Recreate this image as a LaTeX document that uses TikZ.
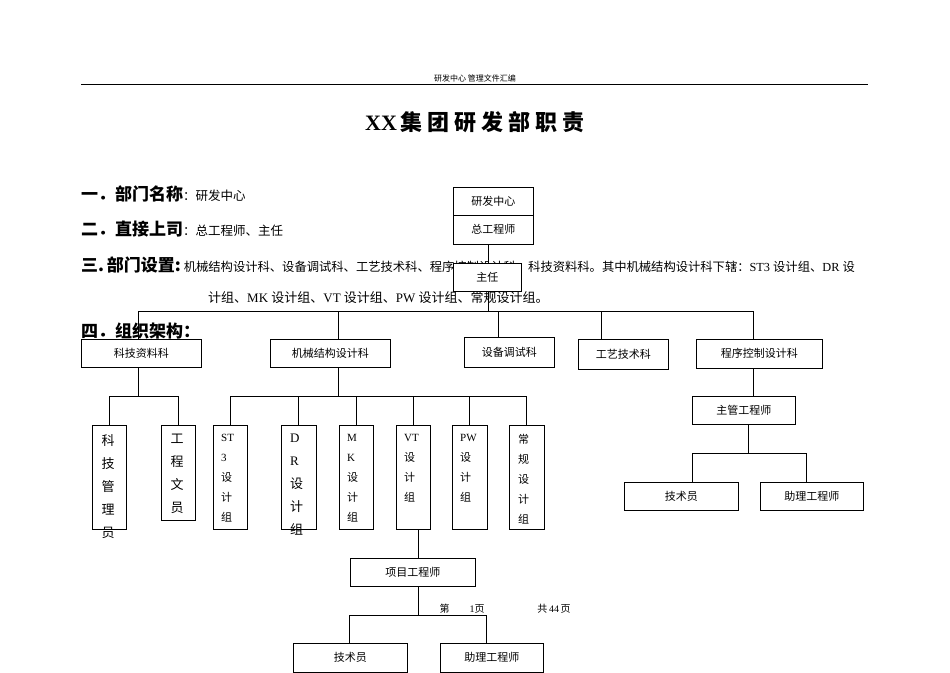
\documentclass[tikz,border=0pt]{standalone}
\usepackage{fontspec}
\setmainfont{Liberation Serif}
\newfontfamily\cjk{Noto Sans CJK SC}
\begin{document}
\begin{tikzpicture}[x=1pt,y=-1pt,
  bx/.style={draw,fill=white,line width=0.6pt,inner sep=0pt,anchor=north west},
  lab/.style={font=\cjk\fontsize{11}{12}\selectfont},
  vt/.style={font=\fontsize{11}{21}\selectfont\cjk,align=center,anchor=north,inner sep=0pt},
  ln/.style={line width=0.6pt}]
\useasboundingbox (0,0) rectangle (950,672);
% header
\node[font=\cjk\fontsize{8}{9}\selectfont] (hd) at (475,78) {研发中心\ 管理文件汇编};
\draw[line width=0.5pt] (81,84) -- (868,84);
\node[font=\bfseries\fontsize{22}{24}\selectfont] (tt) at (475,122) {XX\,{\cjk\bfseries 集\ 团\ 研\ 发\ 部\ 职\ 责}};
\node[anchor=west,inner sep=0pt] (s1) at (81,194) {{\cjk\bfseries\fontsize{17}{18}\selectfont 一．部门名称}{\cjk\fontsize{12.5}{13}\selectfont ：研发中心}};
\node[anchor=west,inner sep=0pt] (s2) at (81,229) {{\cjk\bfseries\fontsize{17}{18}\selectfont 二．直接上司}{\cjk\fontsize{12.5}{13}\selectfont ：总工程师、主任}};
\node[anchor=west,inner sep=0pt] (s3) at (81,265) {{\cjk\bfseries\fontsize{17}{18}\selectfont 三.\,部门设置:\,}{\cjk\fontsize{12.3}{13}\selectfont 机械结构设计科、设备调试科、工艺技术科、程序控制设计科、科技资料科。其中机械结构设计科下辖：}{\fontsize{12.3}{13}\selectfont ST3 }{\cjk\fontsize{12.3}{13}\selectfont 设计组、}{\fontsize{12.3}{13}\selectfont DR }{\cjk\fontsize{12.3}{13}\selectfont 设}};
\node[anchor=west,inner sep=0pt,font=\fontsize{13}{14}\selectfont] (s3b) at (208,298) {{\cjk 计组、}MK {\cjk 设计组、}VT {\cjk 设计组、}PW {\cjk 设计组、常规设计组。}};
\node[anchor=west,inner sep=0pt] (s4) at (81,331) {\cjk\bfseries\fontsize{17}{18}\selectfont 四．组织架构：};
% top
\node[bx,minimum width=80,minimum height=28,lab] (a) at (453,187) {研发中心};
\node[bx,minimum width=80,minimum height=29,lab] (b) at (453,215) {总工程师};
\node[bx,minimum width=68,minimum height=28,lab] (c) at (453,263) {主任};
\draw[ln] (488,244) -- (488,263);
% level 2
\node[bx,minimum width=120,minimum height=28,lab] (k1) at (81,339) {科技资料科};
\node[bx,minimum width=120,minimum height=28,lab] (k2) at (270,339) {机械结构设计科};
\node[bx,minimum width=90,minimum height=30,lab] (k3) at (464,337) {设备调试科};
\node[bx,minimum width=90,minimum height=30,lab] (k4) at (578,339) {工艺技术科};
\node[bx,minimum width=126,minimum height=29,lab] (k5) at (696,339) {程序控制设计科};
\draw[ln] (488,291) -- (488,311);
\draw[ln] (138,339) -- (138,311) -- (753,311) -- (753,339);
\draw[ln] (338,311) -- (338,339) (498,311) -- (498,337) (601,311) -- (601,339);
% 科技资料科 children
\draw[ln] (138,367) -- (138,396);
\draw[ln] (109,425) -- (109,396) -- (178,396) -- (178,425);
\node[bx,minimum width=34,minimum height=104] (m1) at (92,425) {};
\node[bx,minimum width=34,minimum height=95] (m2) at (161,425) {};
\node[vt,font=\cjk\fontsize{13}{23}\selectfont] (t1) at (108,434) {科\\技\\管\\理\\员};
\node[vt,font=\cjk\fontsize{13}{23}\selectfont] (t2) at (177,434) {工\\程\\文\\员};
% 机械 children
\draw[ln] (338,367) -- (338,396);
\draw[ln] (230,425) -- (230,396) -- (526,396) -- (526,425);
\foreach \x in {298,356,413,469}{\draw[ln] (\x,396) -- (\x,425);}
\node[bx,minimum width=34,minimum height=104] (g1) at (213,425) {};
\node[bx,minimum width=35,minimum height=104] (g2) at (281,425) {};
\node[bx,minimum width=34,minimum height=104] (g3) at (339,425) {};
\node[bx,minimum width=34,minimum height=104] (g4) at (396,425) {};
\node[bx,minimum width=35,minimum height=104] (g5) at (452,425) {};
\node[bx,minimum width=35,minimum height=104] (g6) at (509,425) {};
\node[vt,font=\fontsize{11}{20}\selectfont,align=left,anchor=north west] (u1) at (221,434) {ST\\3\\{\cjk 设}\\{\cjk 计}\\{\cjk 组}};
\node[vt,font=\fontsize{13}{23}\selectfont,align=left,anchor=north west] (u2) at (290,434) {D\\R\\{\cjk 设}\\{\cjk 计}\\{\cjk 组}};
\node[vt,font=\fontsize{11}{20}\selectfont,align=left,anchor=north west] (u3) at (347,434) {M\\K\\{\cjk 设}\\{\cjk 计}\\{\cjk 组}};
\node[vt,font=\fontsize{11}{20}\selectfont,align=left,anchor=north west] (u4) at (404,434) {VT\\{\cjk 设}\\{\cjk 计}\\{\cjk 组}};
\node[vt,font=\fontsize{11}{20}\selectfont,align=left,anchor=north west] (u5) at (460,434) {PW\\{\cjk 设}\\{\cjk 计}\\{\cjk 组}};
\node[vt,font=\fontsize{11}{20}\selectfont,align=left,anchor=north west] (u6) at (518,434) {{\cjk 常}\\{\cjk 规}\\{\cjk 设}\\{\cjk 计}\\{\cjk 组}};
% VT children
\node[bx,minimum width=125,minimum height=28,lab] (p) at (350,558) {项目工程师};
\draw[ln] (418,529) -- (418,558);
\draw[ln] (418,586) -- (418,615);
\draw[ln] (349,643) -- (349,615) -- (486,615) -- (486,643);
\node[bx,minimum width=114,minimum height=29,lab] (p1) at (293,643) {技术员};
\node[bx,minimum width=103,minimum height=29,lab] (p2) at (440,643) {助理工程师};
% 程序 children
\node[bx,minimum width=103,minimum height=28,lab] (z) at (692,396) {主管工程师};
\draw[ln] (753,368) -- (753,396);
\draw[ln] (748,424) -- (748,453);
\draw[ln] (692,482) -- (692,453) -- (806,453) -- (806,482);
\node[bx,minimum width=114,minimum height=28,lab] (z1) at (624,482) {技术员};
\node[bx,minimum width=103,minimum height=28,lab] (z2) at (760,482) {助理工程师};
% footer
\node[font=\cjk\fontsize{10}{11}\selectfont] (f1) at (462,609) {第\qquad{\rmfamily 1}页};
\node[font=\cjk\fontsize{10}{11}\selectfont] (f2) at (554,609) {共\,{\rmfamily 44}\,页};
\end{tikzpicture}
\end{document}
